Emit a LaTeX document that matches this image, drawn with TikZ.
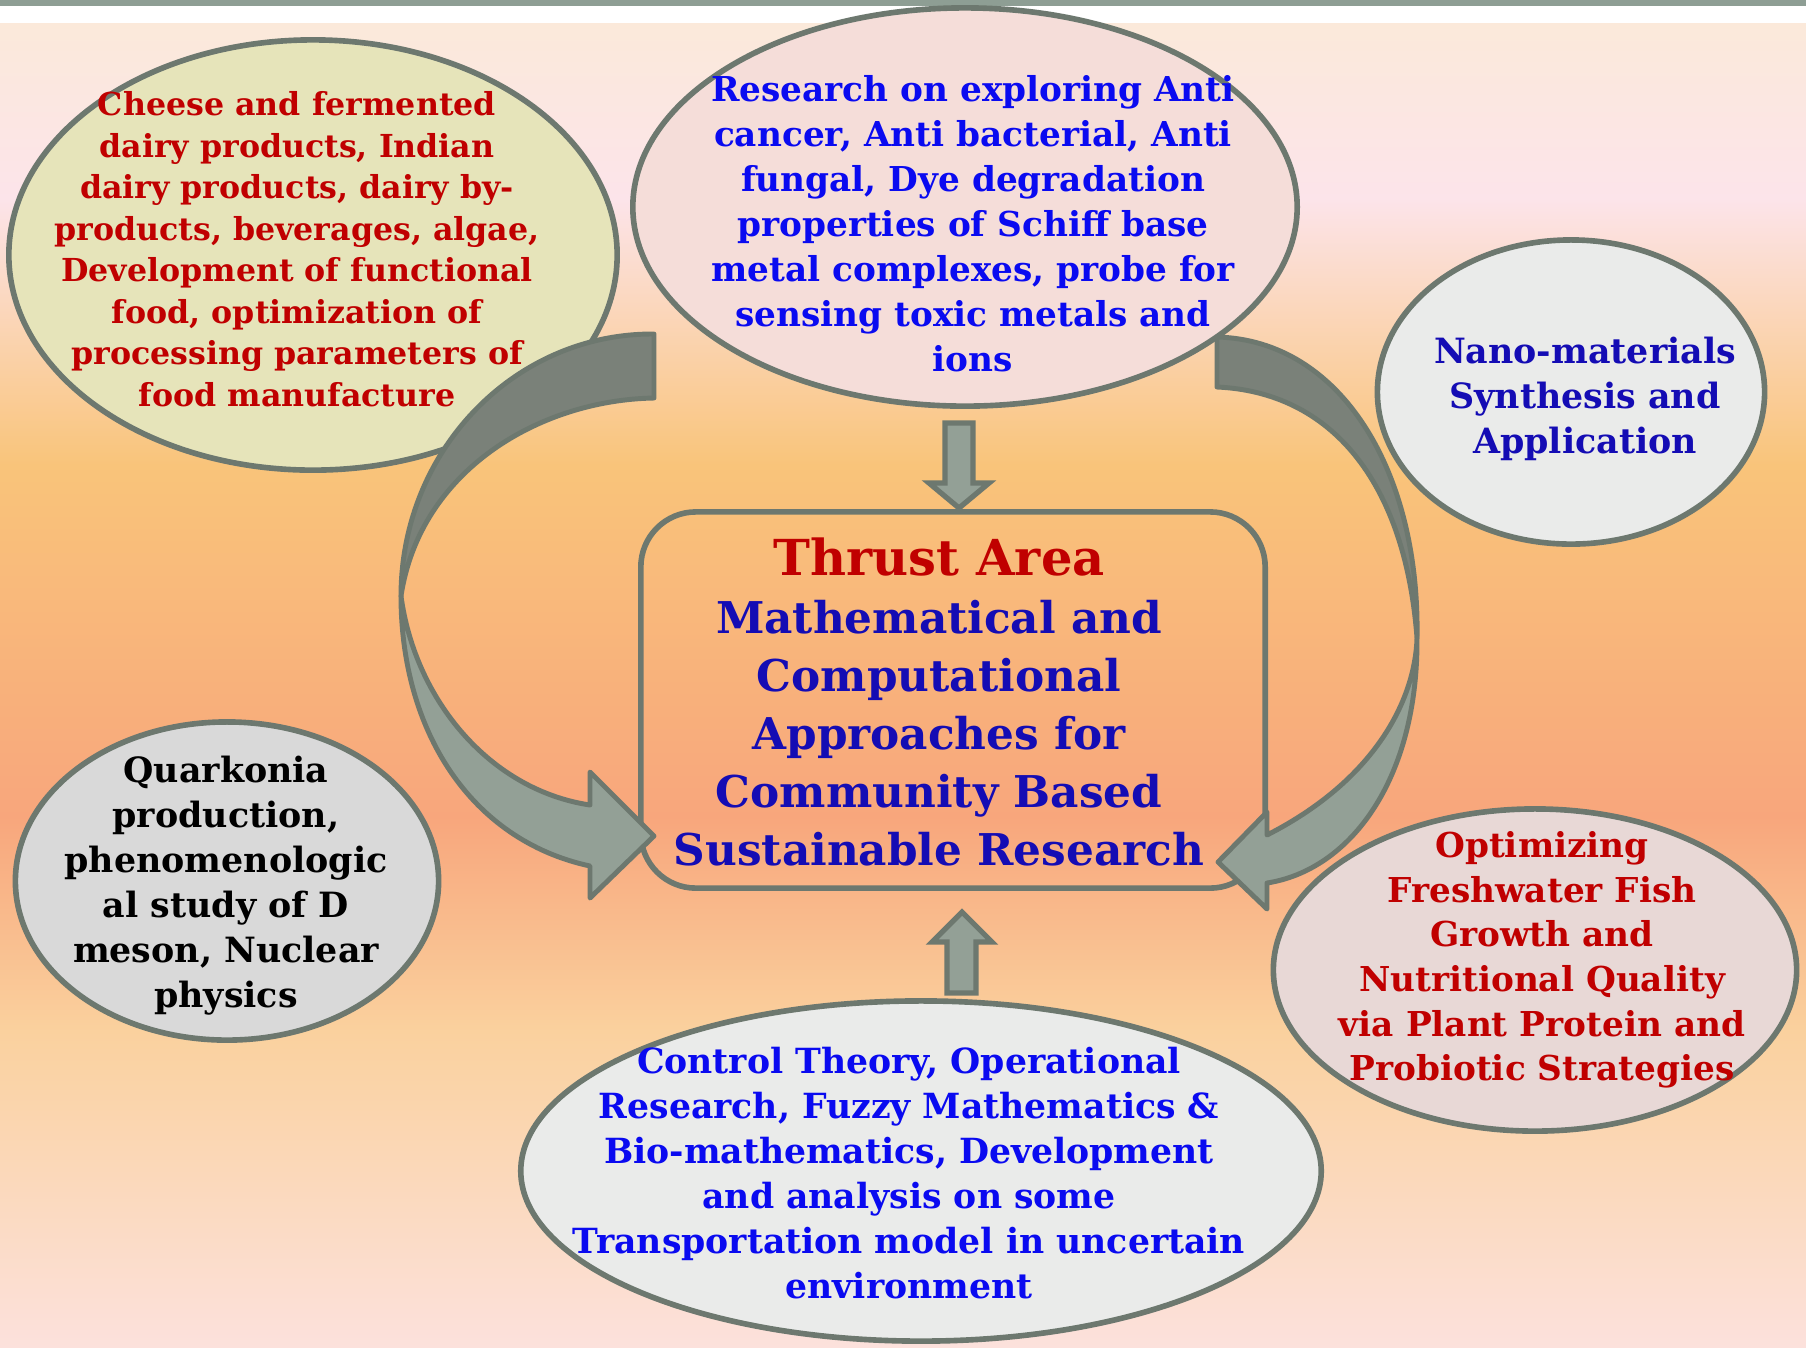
\documentclass[tikz,border=0pt]{standalone}
\usepackage{fontspec}
\setmainfont{DejaVu Serif}
\usetikzlibrary{shapes.geometric}

\definecolor{topbar}{HTML}{8E9E94}
\definecolor{bgpeach}{HTML}{FBE9DA}
\definecolor{bgpink}{HTML}{FCE4EA}
\definecolor{bgorange}{HTML}{F9C47A}
\definecolor{bgsalmon}{HTML}{F8A67C}
\definecolor{bglight}{HTML}{FAD19E}
\definecolor{bgbottom}{HTML}{FCE1DC}
\definecolor{rim}{HTML}{6D786F}
\definecolor{arrowdark}{HTML}{7A8179}
\definecolor{arrowlight}{HTML}{93A096}
\definecolor{darkred}{HTML}{C00000}
\definecolor{navy}{HTML}{140CB4}
\definecolor{brightblue}{HTML}{0A0AF0}
\definecolor{cheesefill}{HTML}{E6E4BA}
\definecolor{researchfill}{HTML}{F5DDD9}
\definecolor{nanofill}{HTML}{EAEBEA}
\definecolor{quarkfill}{HTML}{D9D9D9}
\definecolor{fishfill}{HTML}{E8D8D6}
\definecolor{controlfill}{HTML}{EAEBEA}

\begin{document}
\begin{tikzpicture}[x=0.01cm,y=-0.01cm,every node/.style={align=center},
bubble/.style={ellipse,draw=rim,line width=1.6pt,inner sep=0pt},
blurb/.style={inner sep=0pt,font=\bfseries\fontsize{9.8}{12.8}\selectfont},
sweep/.style={draw=rim,line width=1.4pt,line join=round},
block/.style={draw=rim,fill=arrowlight,line width=1.5pt}
]
\useasboundingbox (0,0) rectangle (1806,1347);
% backdrop
\fill[topbar] (0,0) rectangle (1806,6);
\fill[white] (0,6) rectangle (1806,23);
\shade[top color=bgpeach,bottom color=bgpink] (0,23) rectangle (1806,199);
\shade[top color=bgpink,bottom color=bgorange] (0,198) rectangle (1806,465);
\shade[top color=bgorange,bottom color=bgsalmon] (0,464) rectangle (1806,817);
\shade[top color=bgsalmon,bottom color=bglight] (0,816) rectangle (1806,1032);
\shade[top color=bglight,bottom color=bgbottom] (0,1031) rectangle (1806,1347);

% bubbles
\node[bubble,fill=cheesefill,minimum width=6.08cm,minimum height=4.30cm] (cheese) at (313,255) {};
\node[bubble,fill=researchfill,minimum width=6.64cm,minimum height=3.98cm] (research) at (965,207) {};
\node[bubble,fill=nanofill,minimum width=3.87cm,minimum height=3.04cm] (nano) at (1571,392) {};
\node[bubble,fill=quarkfill,minimum width=4.23cm,minimum height=3.18cm] (quark) at (227,881) {};
\node[bubble,fill=fishfill,minimum width=5.23cm,minimum height=3.22cm] (fish) at (1535,970) {};
\node[bubble,fill=controlfill,minimum width=8.00cm,minimum height=3.40cm] (control) at (921,1171) {};

% thrust frame
\node[draw=rim,line width=1.6pt,rounded corners=0.55cm,minimum width=6.24cm,minimum height=3.76cm] (thrust) at (953,700) {};

% left sweep
\path[sweep,fill=arrowdark] (654,334) -- (654,398) .. controls (540,400) and (420,470) .. (401,596)
  .. controls (401,450) and (515,333) .. (654,334) -- cycle;
\path[sweep,fill=arrowlight] (401,596) .. controls (401,730) and (470,840) .. (590,866) -- (590,898)
  -- (654,836) -- (590,772) -- (590,805) .. controls (490,790) and (415,700) .. (401,596) -- cycle; % <- end left
% right sweep
\path[sweep,fill=arrowdark] (1217,337) -- (1217,387) .. controls (1330,392) and (1405,480) .. (1417,638)
  .. controls (1420,470) and (1340,340) .. (1217,337) -- cycle;
\path[sweep,fill=arrowlight] (1417,638) .. controls (1418,780) and (1350,870) .. (1267,883) -- (1267,909)
  -- (1218,862) -- (1267,812) -- (1267,835) .. controls (1375,780) and (1415,700) .. (1417,638) -- cycle; % <- end right

% straight arrows
\draw[block] (945,423) -- (973,423) -- (973,483) -- (989,483) -- (959,508) -- (929,483) -- (945,483) -- cycle;
\draw[block] (947,993) -- (976,993) -- (976,942) -- (992,942) -- (962,912) -- (932,942) -- (947,942) -- cycle;

% texts
\node[blurb,text=darkred,font=\bfseries\fontsize{9.0}{11.8}\selectfont] (cheesetxt) at (297,249)
  {Cheese and fermented\\ dairy products, Indian\\ dairy products, dairy by-\\ products, beverages, algae,\\
   Development of functional\\ food, optimization of\\ processing parameters of\\ food manufacture};
\node[blurb,text=brightblue,font=\bfseries\fontsize{9.75}{12.8}\selectfont] (researchtxt) at (973,224)
  {Research on exploring Anti\\ cancer, Anti bacterial, Anti\\ fungal, Dye degradation\\ properties of Schiff base\\
   metal complexes, probe for\\ sensing toxic metals and\\ ions};
\node[blurb,text=navy,font=\bfseries\fontsize{9.9}{12.7}\selectfont] (nanotxt) at (1585,399) {Nano-materials\\ Synthesis and\\ Application};
\node[blurb,text=black,font=\bfseries\fontsize{9.9}{12.8}\selectfont] (quarktxt) at (226,886)
  {Quarkonia\\ production,\\ phenomenologic\\ al study of D\\ meson, Nuclear\\ physics};
\node[blurb,text=darkred,font=\bfseries\fontsize{9.75}{12.7}\selectfont] (fishtxt) at (1542,960)
  {Optimizing\\ Freshwater Fish\\ Growth and\\ Nutritional Quality\\ via Plant Protein and\\ Probiotic Strategies};
\node[blurb,text=brightblue,font=\bfseries\fontsize{9.85}{12.8}\selectfont] (controltxt) at (909,1173)
  {Control Theory, Operational\\ Research, Fuzzy Mathematics \&\\ Bio-mathematics, Development\\ and analysis on some\\
   Transportation model in uncertain\\ environment};
\node[inner sep=0pt,text=navy,font=\bfseries\fontsize{12.45}{16.5}\selectfont] (thrusttxt) at (939,702)
  {{\color{darkred}\fontsize{14.1}{16.5}\selectfont Thrust Area}\\ Mathematical and\\ Computational\\
   Approaches for\\ Community Based\\ Sustainable Research};
\end{tikzpicture}
\end{document}
